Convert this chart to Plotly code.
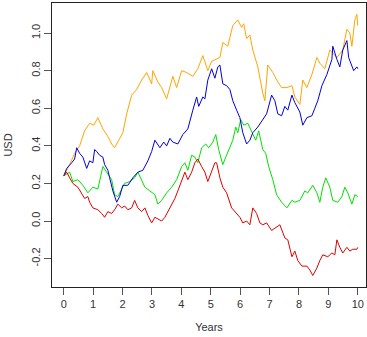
import plotly.graph_objects as go

# Simulated USD paths over 10 years, four scenarios
orange_t = [0.00, 0.20, 0.37, 0.54, 0.71, 0.88, 1.02, 1.16, 1.33, 1.50, 1.63, 1.73, 1.87, 2.01, 2.14,
            2.31, 2.48, 2.65, 2.82, 2.99, 3.03, 3.20, 3.33, 3.50, 3.71, 3.84, 4.01, 4.18, 4.39, 4.56,
            4.73, 4.90, 5.03, 5.17, 5.31, 5.41, 5.58, 5.75, 5.92, 6.05, 6.12, 6.22, 6.33, 6.43, 6.60,
            6.77, 6.84, 6.94, 7.11, 7.28, 7.41, 7.59, 7.76, 7.86, 8.03, 8.13, 8.27, 8.44, 8.61, 8.71,
            8.88, 9.05, 9.29, 9.49, 9.63, 9.73, 9.80, 9.90, 9.97, 10.00]
orange_usd = [0.24, 0.30, 0.36, 0.40, 0.48, 0.52, 0.51, 0.55, 0.49, 0.45, 0.41, 0.39, 0.43, 0.47, 0.57,
              0.67, 0.70, 0.75, 0.79, 0.73, 0.80, 0.74, 0.71, 0.65, 0.77, 0.71, 0.80, 0.79, 0.77, 0.81,
              0.88, 0.80, 0.85, 0.86, 0.87, 0.95, 0.93, 1.04, 1.07, 1.03, 1.05, 0.97, 0.99, 0.91, 0.82,
              0.68, 0.64, 0.83, 0.79, 0.74, 0.71, 0.71, 0.72, 0.66, 0.62, 0.75, 0.71, 0.78, 0.87, 0.84,
              0.81, 0.91, 0.87, 0.91, 1.02, 1.00, 0.93, 1.07, 1.10, 1.04]

blue_t = [0.00, 0.10, 0.27, 0.37, 0.44, 0.54, 0.65, 0.78, 0.88, 0.99, 1.05, 1.12, 1.22, 1.33, 1.39,
          1.50, 1.56, 1.67, 1.80, 1.90, 2.01, 2.18, 2.35, 2.52, 2.69, 2.86, 2.99, 3.10, 3.27, 3.40,
          3.50, 3.61, 3.71, 3.88, 4.05, 4.22, 4.39, 4.52, 4.59, 4.73, 4.80, 4.90, 5.03, 5.14, 5.24,
          5.31, 5.41, 5.54, 5.65, 5.75, 5.88, 5.99, 6.09, 6.22, 6.33, 6.43, 6.60, 6.77, 6.90, 7.07,
          7.18, 7.28, 7.41, 7.52, 7.62, 7.76, 7.86, 8.03, 8.13, 8.27, 8.44, 8.54, 8.64, 8.78, 8.95,
          9.12, 9.15, 9.29, 9.39, 9.49, 9.63, 9.69, 9.80, 9.86, 9.97, 10.00]
blue_usd = [0.24, 0.28, 0.31, 0.33, 0.39, 0.36, 0.34, 0.28, 0.32, 0.31, 0.38, 0.37, 0.35, 0.34, 0.30,
            0.27, 0.23, 0.16, 0.10, 0.13, 0.19, 0.19, 0.23, 0.26, 0.27, 0.32, 0.37, 0.43, 0.39, 0.42,
            0.40, 0.44, 0.42, 0.41, 0.46, 0.49, 0.59, 0.66, 0.61, 0.66, 0.65, 0.75, 0.81, 0.76, 0.82,
            0.83, 0.73, 0.72, 0.70, 0.64, 0.59, 0.55, 0.47, 0.41, 0.43, 0.47, 0.50, 0.54, 0.57, 0.67,
            0.64, 0.57, 0.56, 0.61, 0.59, 0.67, 0.63, 0.58, 0.51, 0.55, 0.56, 0.60, 0.64, 0.72, 0.78,
            0.86, 0.93, 0.86, 0.82, 0.91, 0.96, 0.87, 0.83, 0.80, 0.82, 0.81]

green_t = [0.00, 0.20, 0.31, 0.48, 0.65, 0.82, 0.99, 1.16, 1.33, 1.46, 1.63, 1.73, 1.84, 1.97, 2.07,
           2.24, 2.41, 2.52, 2.65, 2.76, 2.93, 3.10, 3.20, 3.33, 3.50, 3.67, 3.84, 4.01, 4.12, 4.22,
           4.35, 4.46, 4.56, 4.69, 4.83, 4.93, 5.07, 5.17, 5.27, 5.41, 5.51, 5.61, 5.75, 5.85, 5.92,
           6.02, 6.12, 6.26, 6.43, 6.53, 6.63, 6.77, 6.87, 6.97, 7.11, 7.24, 7.41, 7.59, 7.76, 7.86,
           8.03, 8.20, 8.30, 8.47, 8.61, 8.71, 8.81, 8.91, 9.05, 9.15, 9.32, 9.46, 9.56, 9.66, 9.80,
           9.90, 10.00]
green_usd = [0.24, 0.26, 0.21, 0.22, 0.19, 0.15, 0.18, 0.17, 0.29, 0.26, 0.22, 0.14, 0.13, 0.17, 0.20,
             0.21, 0.23, 0.26, 0.22, 0.18, 0.16, 0.14, 0.09, 0.11, 0.15, 0.18, 0.22, 0.29, 0.31, 0.27,
             0.35, 0.34, 0.31, 0.39, 0.41, 0.39, 0.42, 0.46, 0.38, 0.30, 0.34, 0.38, 0.43, 0.50, 0.47,
             0.54, 0.51, 0.52, 0.46, 0.43, 0.48, 0.38, 0.36, 0.29, 0.22, 0.14, 0.10, 0.07, 0.11, 0.10,
             0.11, 0.16, 0.15, 0.19, 0.15, 0.10, 0.18, 0.23, 0.18, 0.11, 0.10, 0.13, 0.18, 0.15, 0.09,
             0.14, 0.13]

red_t = [0.00, 0.10, 0.20, 0.31, 0.48, 0.61, 0.71, 0.82, 0.88, 0.99, 1.16, 1.29, 1.39, 1.50, 1.63,
         1.73, 1.84, 1.97, 2.07, 2.18, 2.31, 2.41, 2.52, 2.65, 2.76, 2.86, 2.99, 3.10, 3.20, 3.33,
         3.44, 3.54, 3.67, 3.78, 3.88, 4.01, 4.12, 4.22, 4.35, 4.46, 4.56, 4.69, 4.80, 4.90, 5.03,
         5.14, 5.20, 5.31, 5.41, 5.54, 5.71, 5.82, 5.99, 6.09, 6.22, 6.33, 6.43, 6.56, 6.67, 6.77,
         6.90, 7.07, 7.24, 7.35, 7.52, 7.62, 7.76, 7.86, 7.96, 8.10, 8.27, 8.37, 8.47, 8.61, 8.71,
         8.81, 8.98, 9.12, 9.22, 9.29, 9.39, 9.49, 9.63, 9.73, 9.83, 9.97, 10.00]
red_usd = [0.24, 0.26, 0.23, 0.20, 0.18, 0.15, 0.12, 0.13, 0.10, 0.07, 0.06, 0.04, 0.02, 0.05, 0.04,
           0.06, 0.09, 0.07, 0.08, 0.06, 0.07, 0.11, 0.07, 0.05, 0.07, 0.03, -0.01, 0.02, 0.01, 0.00,
           0.02, 0.05, 0.09, 0.12, 0.16, 0.22, 0.26, 0.22, 0.26, 0.31, 0.33, 0.29, 0.26, 0.21, 0.27,
           0.31, 0.31, 0.23, 0.18, 0.15, 0.07, 0.05, 0.02, -0.01, 0.00, -0.02, 0.07, 0.04, -0.01, -0.02,
           -0.01, -0.05, -0.03, -0.02, -0.09, -0.10, -0.19, -0.16, -0.21, -0.24, -0.24, -0.26, -0.29, -0.25, -0.21,
           -0.18, -0.19, -0.17, -0.18, -0.10, -0.14, -0.17, -0.14, -0.16, -0.15, -0.15, -0.14]

x_ticks = list(range(0, 11))
y_ticks = [-0.2, 0.0, 0.2, 0.4, 0.6, 0.8, 1.0]
y_tick_text = ["-0.2", "0.0", "0.2", "0.4", "0.6", "0.8", "1.0"]

series = [
    (orange_t, orange_usd, "#FFA500"),
    (green_t, green_usd, "#00E000"),
    (blue_t, blue_usd, "#0000E0"),
    (red_t, red_usd, "#E00000"),
]

fig = go.Figure()
for t, v, color in series:
    fig.add_trace(go.Scatter(x=t, y=v, mode="lines",
                             line=dict(color=color, width=1),
                             showlegend=False, hoverinfo="skip"))

axis_font = dict(family="Liberation Sans, Arial, sans-serif", size=11, color="#333333")

fig.update_layout(
    width=367, height=337,
    margin=dict(l=52, r=1, t=3, b=50),
    paper_bgcolor="white", plot_bgcolor="white",
    font=axis_font,
    xaxis=dict(
        range=[-0.4, 10.28], tickvals=x_ticks, ticktext=[str(v) for v in x_ticks],
        showgrid=False, zeroline=False,
        showline=True, linecolor="#222222", linewidth=1, mirror=True,
        ticks="outside", ticklen=7, tickcolor="#555555", tickwidth=1,
        tickfont=axis_font,
        title=dict(text="Years", font=axis_font, standoff=14),
    ),
    yaxis=dict(
        range=[-0.351, 1.160], tickvals=y_ticks, ticktext=y_tick_text,
        showgrid=False, zeroline=False,
        showline=True, linecolor="#222222", linewidth=1, mirror=True,
        ticks="outside", ticklen=7, tickcolor="#555555", tickwidth=1,
        tickangle=-90, tickfont=axis_font,
        title=dict(text="USD", font=axis_font, standoff=14),
    ),
)

fig.write_html("out.html")
